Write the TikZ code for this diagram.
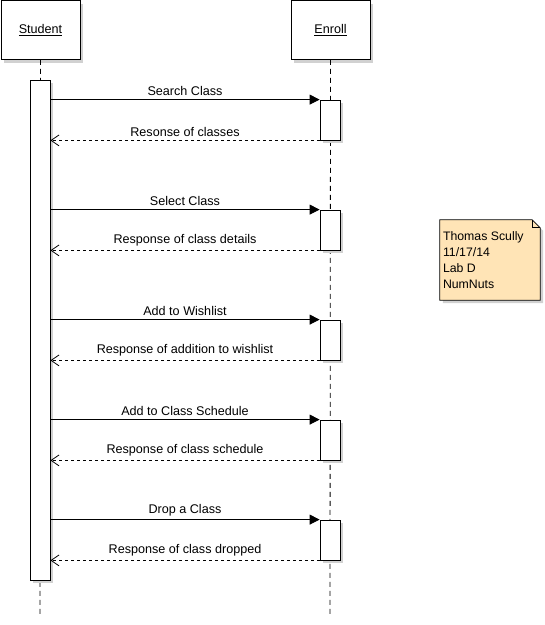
\documentclass[tikz,border=0pt]{standalone}
\usepackage{fontspec}
\setmainfont{Liberation Sans}
\usetikzlibrary{
	arrows.meta,
	shadows,
	positioning
}

\begin{document}
\begin{tikzpicture}
[x=1pt,y=-1pt,font=\fontsize{12.6}{14}\selectfont,
shade/.style={drop shadow={shadow xshift=3pt,shadow yshift=-3pt,fill=black!18,opacity=1}},
head/.style={rectangle,draw=black,fill=white,thick,minimum width=79pt,minimum height=59pt,shade},
act/.style={rectangle,draw=black,fill=white,thick,minimum width=20pt,shade},
lifeline/.style={draw=black,thick,dash pattern=on 5pt off 4pt},
call/.style={draw=black,thick,-{Triangle[length=10pt,width=10pt]}},
reply/.style={draw=black,thick,dash pattern=on 3pt off 3pt,-{Straight Barb[length=8pt,width=11pt]}},
msg/.style={above=1.5pt,inner sep=2pt},
notebox/.style={draw=black,thick,fill={rgb,255:red,255;green,228;blue,182},shade}]
\useasboundingbox (0,0) rectangle (545,625);
% headers
\node (student) at (40.5,30) [head] {\underline{Student}};
\node (enroll) at (330.5,30) [head] {\underline{Enroll}};
% lifelines
\coordinate (studentend) at (40,616);
\coordinate (enrollend) at (330,616);
\draw [lifeline] (student.south) -- (studentend);
\draw [lifeline] (enroll.south) -- (enrollend);
% activations
\node (sa) at (40,330) [act,minimum height=500pt] {};
\node (e1) at (330,120) [act,minimum height=40pt] {};
\node (e2) at (330,230) [act,minimum height=40pt] {};
\node (e3) at (330,340) [act,minimum height=40pt] {};
\node (e4) at (330,440) [act,minimum height=40pt] {};
\node (e5) at (330,540) [act,minimum height=40pt] {};
% messages
\draw [call] (sa.east |- e1.north west) -- node[msg] {Search Class} (e1.north west);
\draw [reply] (e1.south west) -- node[msg] {Resonse of classes} (sa.east |- e1.south west);
\draw [call] (sa.east |- e2.north west) -- node[msg] {Select Class} (e2.north west);
\draw [reply] (e2.south west) -- node[msg] {Response of class details} (sa.east |- e2.south west);
\draw [call] (sa.east |- e3.north west) -- node[msg] {Add to Wishlist} (e3.north west);
\draw [reply] (e3.south west) -- node[msg] {Response of addition to wishlist} (sa.east |- e3.south west);
\draw [call] (sa.east |- e4.north west) -- node[msg] {Add to Class Schedule} (e4.north west);
\draw [reply] (e4.south west) -- node[msg] {Response of class schedule} (sa.east |- e4.south west);
\draw [call] (sa.east |- e5.north west) -- node[msg] {Drop a Class} (e5.north west);
\draw [reply] (e5.south west) -- node[msg] {Response of class dropped} (sa.east |- e5.south west);
% note
\node (note) at (490,260) [minimum width=100pt,minimum height=80pt,inner sep=0pt] {};
\path [notebox] (note.north west) -- ([xshift=-8pt]note.north east) -- ([yshift=-8pt]note.north east)
	-- (note.south east) -- (note.south west) -- cycle;
\draw [thick] ([xshift=-8pt]note.north east) -- ([xshift=-8pt,yshift=-8pt]note.north east) -- ([yshift=-8pt]note.north east);
\node (notetext) at ([shift={(3pt,-12pt)}]note.north west) [anchor=north west,align=left,inner sep=0pt,font=\fontsize{12.3}{16}\selectfont]
	{Thomas Scully\\11/17/14\\Lab D\\NumNuts};
\end{tikzpicture}
\end{document}
